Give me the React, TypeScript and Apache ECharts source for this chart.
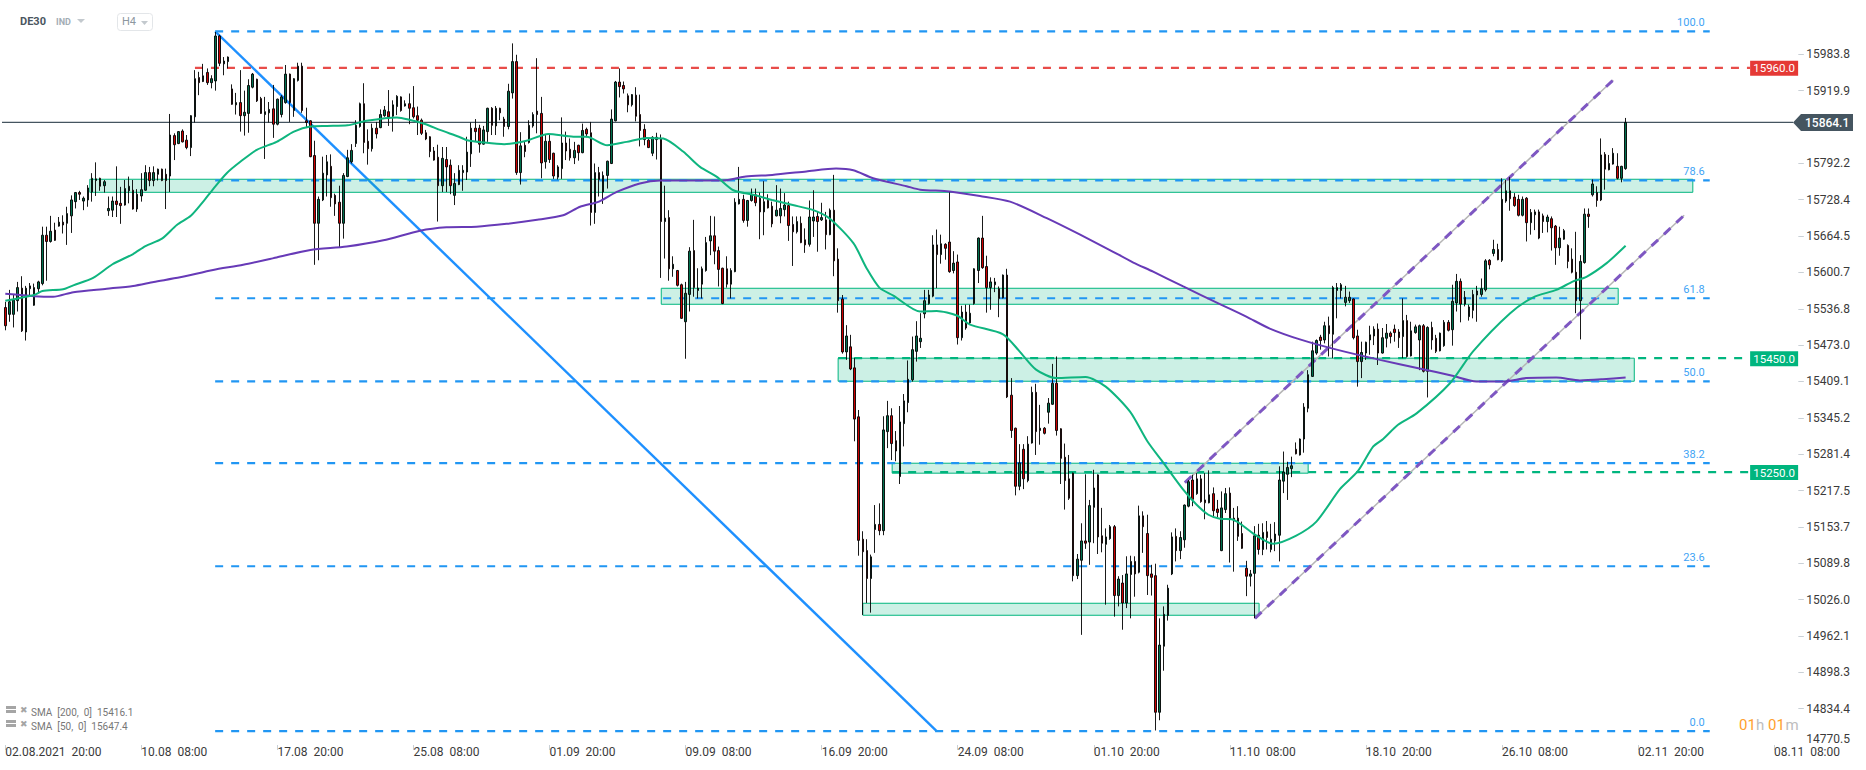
import React, { useEffect, useRef } from "react";
import * as echarts from "echarts";

// each row: [open, close, low, high]
const candlesAugA = [
[15539,15507,15499,15549],[15527,15549,15514,15570],[15527,15552,15504,15561],[15551,15574,15532,15584],[15573,15498,15496,15594],[15496,15573,15481,15577],[15572,15577,15559,15582],[15543,15574,15542,15581],[15572,15584,15566,15586],[15581,15666,15578,15681],
[15666,15655,15586,15681],[15655,15673,15653,15700],[15675,15657,15656,15688],[15682,15689,15681,15698],[15689,15684,15669,15701],[15687,15704,15649,15716],[15700,15728,15670,15736],[15725,15741,15713,15742],[15741,15738,15728,15744],[15726,15731,15710,15734],
[15728,15749,15716,15754],[15742,15766,15725,15775],[15762,15765,15735,15794],[15766,15752,15744,15767],[15753,15760,15741,15763],[15709,15713,15700,15734],[15710,15726,15698,15734],[15726,15720,15698,15787],[15722,15718,15686,15751],[15719,15748,15718,15763],
[15744,15752,15722,15769],[15745,15712,15711,15763],[15712,15738,15707,15747],[15735,15746,15725,15775],[15745,15776,15744,15789],[15776,15762,15752,15786],[15762,15776,15752,15787],[15773,15782,15762,15783],[15782,15762,15761,15783],[15773,15762,15712,15783],
[15770,15842,15742,15879],[15841,15825,15798,15845],[15827,15848,15826,15849],[15849,15830,15829,15852],[15833,15820,15817,15842],[15820,15876,15805,15877],[15874,15941,15864,15956],[15943,15934,15912,15953],[15936,15946,15935,15967],[15952,15934,15930,15959],
[15934,15941,15924,15947],[15937,16016,15920,16023],[16016,15968,15963,16018],[15967,15972,15947,15979],[15971,15979,15959,15980],[15923,15896,15895,15931],[15895,15899,15878,15916],[15899,15876,15848,15956],[15876,15882,15841,15920],[15880,15929,15846,15940],
];
const candlesAugB = [
[15926,15949,15924,15951],[15940,15902,15900,15941],[15906,15880,15879,15909],[15878,15883,15800,15909],[15881,15887,15864,15900],[15888,15861,15837,15930],[15861,15905,15859,15906],[15878,15909,15873,15912],[15899,15949,15897,15965],[15949,15899,15865,15950],
[15885,15941,15874,15942],[15938,15963,15936,15969],[15963,15885,15881,15969],[15867,15864,15855,15890],[15867,15804,15803,15868],[15806,15687,15614,15832],[15687,15729,15622,15734],[15728,15775,15726,15804],[15772,15795,15734,15807],[15787,15732,15716,15808],
[15736,15721,15700,15739],[15724,15687,15645,15753],[15687,15771,15660,15775],[15769,15802,15768,15816],[15795,15815,15792,15826],[15827,15859,15821,15868],[15857,15897,15855,15899],[15897,15829,15810,15933],[15831,15818,15790,15852],[15818,15854,15813,15862],
[15854,15844,15836,15865],[15855,15878,15854,15887],[15876,15886,15874,15893],[15883,15874,15858,15921],[15875,15895,15848,15903],[15892,15910,15877,15912],[15909,15885,15883,15910],[15893,15897,15892,15903],[15897,15889,15861,15915],[15890,15874,15871,15928],
[15876,15868,15842,15892],[15868,15845,15842,15871],[15846,15835,15833,15851],[15839,15813,15803,15840],[15814,15798,15797,15821],[15803,15753,15690,15825],[15753,15801,15742,15821],[15799,15786,15742,15821],[15789,15753,15738,15799],[15736,15757,15719,15775],
[15755,15780,15754,15789],[15776,15780,15744,15789],[15777,15812,15763,15839],
];
const candlesSepA = [
[15809,15854,15786,15864],[15854,15848,15830,15870],[15854,15826,15811,15860],[15826,15851,15825,15858],[15848,15889,15830,15890],[15889,15859,15842,15891],[15858,15889,15842,15893],[15889,15881,15868,15890],[15870,15857,15839,15874],[15857,15919,15852,15932],
[15916,15971,15906,16003],[15971,15776,15772,15983],[15776,15823,15755,15847],[15824,15813,15803,15831],[15829,15859,15827,15868],[15858,15878,15855,15882],[15884,15878,15845,15977],[15880,15793,15766,15909],[15795,15831,15783,15842],[15831,15799,15793,15842],
[15810,15770,15765,15811],[15768,15786,15764,15789],[15783,15828,15765,15873],[15828,15814,15798,15848],[15817,15802,15797,15836],[15802,15815,15791,15830],[15824,15811,15797,15825],[15811,15850,15810,15862],[15852,15844,15838,15855],[15846,15706,15683,15865],
[15706,15776,15686,15792],[15776,15764,15734,15786],[15742,15771,15721,15778],[15771,15796,15748,15797],[15792,15870,15791,15887],[15867,15935,15866,15937],[15935,15927,15908,15959],[15929,15923,15915,15936],[15911,15895,15882,15915],[15895,15913,15892,15914],
[15912,15875,15866,15926],[15878,15850,15822,15913],[15852,15834,15824,15861],[15833,15820,15819,15836],[15810,15838,15805,15840],[15834,15838,15799,15846],[15836,15690,15591,15843],[15690,15696,15625,15753],[15697,15607,15586,15710],[15607,15615,15593,15629],
[15604,15578,15576,15605],[15579,15520,15519,15581],[15514,15564,15449,15584],[15562,15638,15532,15645],[15639,15574,15558,15693],[15569,15573,15555,15608],[15580,15607,15555,15611],[15604,15653,15602,15663],[15656,15665,15631,15700],[15665,15638,15615,15699],
];
const candlesSepB = [
[15639,15606,15576,15646],[15608,15546,15545,15609],[15607,15580,15574,15629],[15580,15604,15555,15608],[15602,15724,15601,15731],[15721,15729,15720,15786],[15729,15692,15688,15737],[15692,15727,15681,15728],[15727,15737,15725,15748],[15737,15723,15717,15748],
[15731,15707,15659,15741],[15707,15725,15666,15761],[15727,15714,15713,15738],[15717,15686,15680,15725],[15700,15710,15699,15754],[15700,15713,15687,15748],[15711,15719,15699,15740],[15718,15683,15656,15725],[15685,15672,15612,15699],[15672,15690,15669,15699],
[15687,15653,15652,15699],[15658,15649,15635,15678],[15650,15698,15646,15727],[15691,15698,15663,15745],[15699,15690,15637,15707],[15693,15697,15691,15723],[15693,15667,15641,15707],[15667,15710,15666,15713],[15710,15621,15594,15772],[15624,15551,15530,15643],
[15554,15461,15458,15561],[15461,15489,15447,15508],[15470,15431,15429,15491],[15433,15343,15304,15450],[15347,15130,15103,15359],[15132,15110,14999,15146],[15112,15063,15020,15132],[15063,15101,15003,15105],[15149,15158,15108,15192],[15158,15147,15139,15195],
[15147,15324,15139,15348],[15321,15349,15292,15375],[15349,15300,15271,15362],[15305,15287,15269,15322],[15242,15338,15229,15366],[15335,15375,15295,15387],
];
const candlesOctA = [
[15372,15413,15355,15446],[15412,15465,15409,15488],[15462,15489,15444,15515],[15479,15485,15468,15529],[15528,15551,15520,15570],[15546,15561,15544,15570],[15559,15649,15557,15666],[15649,15632,15573,15676],[15632,15651,15616,15667],[15650,15643,15623,15652],
[15654,15602,15600,15743],[15604,15617,15599,15638],[15619,15486,15474,15632],[15486,15531,15481,15542],[15531,15503,15500,15544],[15512,15529,15510,15544],[15546,15607,15544,15608],[15604,15661,15582,15662],[15661,15609,15607,15700],[15611,15574,15530,15630],
[15574,15584,15535,15592],[15579,15584,15566,15591],[15572,15555,15522,15576],[15556,15596,15555,15597],[15596,15382,15380,15607],[15385,15323,15310,15415],[15327,15225,15209,15328],[15225,15266,15218,15299],[15290,15238,15220,15299],[15235,15299,15232,15313],
[15301,15390,15300,15400],[15390,15321,15280,15405],[15323,15327,15298,15368],[15327,15318,15316,15329],[15355,15371,15335,15380],[15369,15406,15368,15440],[15406,15323,15314,15453],[15326,15274,15229,15327],[15276,15235,15184,15300],[15238,15204,15201,15280],
[15248,15068,15058,15249],[15068,15097,15062,15106],[15095,15129,14964,15160],[15129,15125,15115,15246],[15127,15191,15087,15201],[15188,15222,15125,15254],[15245,15136,15106,15246],[15138,15125,15109,15187],[15123,15136,15017,15151],[15133,15154,15131,15157],
[15154,15033,14996,15157],[15033,15062,15014,15067],[15055,15020,14973,15069],[15020,15071,15011,15102],[15070,15093,14993,15103],[15093,15071,15031,15102],[15074,15173,15072,15191],[15173,15154,15108,15181],[15142,15068,15034,15175],[15071,15065,15033,15087],
];
const candlesOctB = [
[15068,14828,14796,15089],[14828,14946,14814,14993],[14944,15000,14901,15014],[14998,15046,14989,15052],[15071,15136,15069,15144],[15137,15112,15093,15151],[15112,15135,15097,15146],[15131,15192,15117,15193],[15190,15233,15188,15236],[15236,15202,15190,15245],
[15212,15238,15210,15248],[15238,15198,15196,15245],[15201,15196,15167,15248],[15196,15210,15195,15253],[15212,15182,15172,15223],[15185,15179,15171,15201],[15112,15187,15111,15216],[15184,15212,15178,15222],[15213,15167,15091,15223],[15169,15164,15075,15187],
[15169,15137,15129,15190],[15142,15116,15115,15163],[15081,15067,15032,15094],[15067,15071,15049,15078],[15072,15138,14993,15155],[15139,15114,15105,15159],[15114,15144,15104,15160],[15145,15135,15114,15164],[15114,15132,15109,15159],[15129,15141,15111,15162],
[15139,15236,15093,15260],[15234,15250,15213,15286],[15246,15258,15201,15268],[15256,15261,15241,15277],[15290,15282,15281,15302],[15280,15308,15279,15309],[15308,15364,15284,15371],[15362,15421,15355,15429],[15418,15463,15417,15479],[15459,15481,15456,15483],
];
const candlesOctC = [
[15487,15481,15465,15491],[15482,15507,15476,15514],[15507,15493,15453,15523],[15492,15574,15450,15577],[15569,15574,15520,15582],[15569,15579,15555,15582],[15548,15557,15541,15577],[15551,15557,15547,15567],[15554,15486,15483,15555],[15489,15444,15400,15500],
[15444,15460,15415,15479],[15459,15478,15447,15479],[15482,15491,15456,15507],[15489,15501,15473,15506],[15501,15459,15438,15511],[15459,15486,15458,15503],[15485,15494,15469,15510],[15494,15488,15476,15497],[15501,15495,15479,15509],[15496,15486,15468,15501],
[15488,15516,15450,15555],[15516,15453,15451,15526],[15454,15498,15453,15514],[15495,15505,15493,15509],[15482,15507,15429,15509],[15507,15427,15425,15510],[15427,15504,15381,15506],[15504,15482,15465,15514],[15485,15462,15459,15491],[15463,15494,15462,15495],
[15472,15513,15470,15517],[15513,15499,15497,15517],[15500,15550,15472,15579],[15547,15585,15532,15598],[15585,15545,15513,15590],[15545,15557,15541,15568],[15523,15540,15516,15544],[15534,15562,15520,15570],[15561,15568,15514,15577],[15562,15572,15558,15590],
[15570,15621,15567,15624],[15622,15614,15606,15624],[15634,15641,15629,15658],[15641,15623,15622,15651],[15622,15729,15619,15766],[15726,15744,15723,15763],[15744,15730,15709,15768],[15733,15718,15716,15740],[15729,15701,15699,15737],[15701,15729,15699,15734],
[15731,15688,15655,15733],[15688,15706,15667,15712],[15702,15707,15675,15711],[15707,15661,15659,15711],[15700,15690,15670,15704],[15690,15698,15671,15702],[15695,15679,15639,15699],[15682,15644,15614,15684],[15644,15661,15630,15681],[15659,15674,15658,15677],
[15648,15620,15608,15650],[15624,15601,15599,15643],[15601,15551,15529,15672],[15551,15620,15483,15631],[15618,15703,15616,15713],[15703,15699,15679,15713],[15737,15756,15734,15764],[15741,15727,15716,15752],[15728,15807,15726,15836],[15808,15782,15746,15812],
[15781,15792,15780,15807],[15791,15810,15790,15819],[15787,15766,15764,15810],[15766,15787,15759,15788],[15783,15864.1,15781,15872],
];

// moving averages: [bar position, price]
const sma50 = [
[0,15551],[7,15561],[9,15568],[14,15571],[16.5,15578],[21.3,15591],[26,15615],[31,15633],[34,15647],[38,15660],[41.6,15684],[45,15700],[48,15725],[50.5,15748],[53.7,15775],[57,15795],[61,15816],[65.8,15830],[70,15848],[74,15857],[78,15858],[83,15859],[87.6,15867],[95,15873],[98,15869],[102,15861],[105.4,15851],[110,15839],[112,15833],
[116,15829],[121,15826],[126.4,15832],[131.7,15844],[137.8,15839],[141,15839],[146,15824],[150.7,15830],[155.5,15837],[159.6,15836],[164.4,15813],[168.5,15786],[172.5,15769],[176.6,15745],[181.4,15737],[186,15728],[191,15719],[196,15710],[200,15695],[205.7,15652],[208.9,15608],[212,15574],[215.4,15560],[221.9,15532],[225.9,15533],[230.8,15525],[234,15509],[242,15492],[246,15462],[250,15430],[254.9,15415],[262,15417],[266.9,15400],[272.8,15356],[277,15304],[280.9,15266],[285.7,15219],[288.9,15193],[291.8,15175],[294.6,15168],[297.5,15167],[303.3,15139],[307.5,15124],[313,15138],[318,15163],[323.7,15220],[328,15251],[331.8,15295],[334.2,15308],[337.8,15333],[342.3,15353],[350.4,15406],[356,15462],[365,15529],[370.6,15557],[376.2,15570],[380.3,15585],[383.5,15593],[388.4,15617],[393,15647.4],
];
const sma200 = [
[0,15563],[7,15559],[11.6,15558],[16.5,15566],[24.6,15572],[31,15577],[36,15584],[42.4,15592],[50.4,15605],[57.7,15614],[65.8,15627],[74,15640],[82.8,15646],[91.7,15657],[100.6,15674],[107,15680],[114.3,15681],[121.6,15686],[129,15693],[135.3,15701],[139.4,15716],[144,15725],[148.3,15742],[153.9,15757],[158.8,15762],[166.8,15762],[174,15762],[179.6,15769],[186,15772],[194.3,15778],[201.5,15783],[205.7,15780],[210.5,15766],[218.6,15752],[221.9,15746],[229,15743],[236.4,15735],[243.7,15725],[252.6,15696],[260.7,15667],[267.9,15640],[273.6,15618],[278.4,15602],[285.7,15576],[294.6,15545],[301,15523],[306.7,15502],[314,15483],[322.9,15465],[333.4,15447],[343,15432],[351,15419],[356.8,15409],[363.3,15409],[368.9,15415],[376.2,15416],[381.9,15411],[387.5,15413],[393,15416.1],
];

const priceTicks = [15983.8,15919.9,15792.2,15728.4,15664.5,15600.7,15536.8,15473.0,15409.1,15345.2,15281.4,15217.5,15153.7,15089.8,15026.0,14962.1,14898.3,14834.4,14770.5];
const timeLabels = ["02.08.2021  20:00","10.08  08:00","17.08  20:00","25.08  08:00","01.09  20:00","09.09  08:00","16.09  20:00","24.09  08:00","01.10  20:00","11.10  08:00","18.10  20:00","26.10  08:00","02.11  20:00","08.11  08:00"];

// [start bar, end bar, level, caption]
const fibLevels = [
  [50.9,413.4,16024.2,"100.0"],[50.9,413.4,15762.5,"78.6"],[50.9,413.4,15555.3,"61.8"],[50.9,413.4,15409.4,"50.0"],[50.9,413.4,15265.5,"38.2"],[50.9,413.4,15084.5,"23.6"],[50.9,413.4,14794.7,"0.0"],
];
// [start bar, end bar, upper price, lower price]
const zones = [
  [20.5,409.3,15764.3,15741.4],[159.1,391.2,15572.8,15544.7],[202,395.1,15450,15409.5],[215.1,316,15265.5,15248],[208,304.1,15019.5,14998.4],
];
// [start bar, start price, end bar, end price]
const trendLine = [[50.9,16024.2,225.9,14794.7]];
const channelLines = [[286.1,15231.4,390,15938.7],[303.1,14993,407.2,15701]];
const resistanceLevel = [[46,15960,423.2,15960]];
const supportLevels = [[202,15450,423.2,15450],[215.1,15250,423.2,15250]];
const currentLevel = [[-0.8,15864.1,433.6,15864.1]];
const priceFlags = [[15960,"#e53935"],[15450,"#00b57e"],[15250,"#00b57e"]];
const currentPrice = [[15864.1]];

const FONT = "Roboto, sans-serif";
const BAR_COUNT = 436;
const LABEL_STEP = 33;
const BLUE = "#2196f3";

const segmentSeries = (rows: any[], style: any) => ({
  type: "custom",
  xAxisIndex: 1,
  yAxisIndex: 0,
  silent: true,
  data: rows,
  encode: { x: [0, 2], y: [1, 3] },
  renderItem: (_p: any, api: any) => {
    const a = api.coord([api.value(0), api.value(1)]);
    const b = api.coord([api.value(2), api.value(3)]);
    return { type: "line", shape: { x1: a[0], y1: a[1], x2: b[0], y2: b[1] }, style: { fill: null, ...style } };
  },
});

function buildOption() {
  const candles = [...candlesAugA, ...candlesAugB, ...candlesSepA, ...candlesSepB, ...candlesOctA, ...candlesOctB, ...candlesOctC];
  const categories = Array.from({ length: BAR_COUNT }, (_, i) => (i % LABEL_STEP === 0 ? timeLabels[i / LABEL_STEP] ?? "" : ""));
  const everyLabel = (i: number) => i % LABEL_STEP === 0;
  const lowest = priceTicks[priceTicks.length - 1];
  return {
    animation: false,
    backgroundColor: "#ffffff",
    grid: { left: 3.24, top: 0, width: 1797.6, height: 745, containLabel: false },
    xAxis: [
      {
        type: "category",
        data: categories,
        boundaryGap: true,
        axisLine: { show: false, onZero: false },
        axisTick: { show: true, interval: everyLabel, alignWithLabel: true, length: 5, lineStyle: { color: "#c9d0d6", width: 1 } },
        axisLabel: { show: true, interval: everyLabel, align: "left", margin: 0, color: "#3a3a3a", fontSize: 12, fontFamily: FONT, lineHeight: 14 },
        splitLine: { show: false },
      },
      { type: "value", min: -0.5, max: BAR_COUNT - 0.5, show: false, splitLine: { show: false } },
    ],
    yAxis: [
      {
        type: "value",
        position: "right",
        min: 14770.5,
        max: 16079.2,
        offset: -2.5,
        axisLine: { show: false, onZero: false },
        axisTick: { show: true, length: 5.5, customValues: priceTicks.slice(0, -1), lineStyle: { color: "#c9d0d6", width: 1 } },
        axisLabel: {
          show: true,
          customValues: priceTicks,
          margin: 8,
          color: "#3a3a3a",
          fontSize: 12,
          fontFamily: FONT,
          formatter: (v: number) => (v === lowest ? `{low|${v.toFixed(1)}}` : v.toFixed(1)),
          rich: { low: { color: "#3a3a3a", fontSize: 12, fontFamily: FONT, padding: [0, 0, 12, 0] } },
        },
        splitLine: { show: false },
      },
    ],
    series: [
      {
        type: "candlestick",
        xAxisIndex: 0,
        yAxisIndex: 0,
        barWidth: 2,
        data: candles,
        itemStyle: { color: "#00704e", color0: "#cc0000", borderColor: "#000000", borderColor0: "#000000", borderWidth: 0.9 },
      },
      {
        type: "line", xAxisIndex: 1, yAxisIndex: 0, data: sma200, showSymbol: false, symbol: "none", smooth: 0.25, silent: true,
        lineStyle: { color: "#673ab7", width: 2 },
      },
      {
        type: "line", xAxisIndex: 1, yAxisIndex: 0, data: sma50, showSymbol: false, symbol: "none", smooth: 0.25, silent: true,
        lineStyle: { color: "#0fb57f", width: 2 },
      },
      segmentSeries(currentLevel, { stroke: "#455560", lineWidth: 1.2 }),
      segmentSeries(trendLine, { stroke: "#1e90ff", lineWidth: 2.4 }),
      segmentSeries(resistanceLevel, { stroke: "#e53935", lineWidth: 2.2, lineDash: [8, 8], opacity: 0.9 }),
      segmentSeries(supportLevels, { stroke: "#00b57e", lineWidth: 2.2, lineDash: [8, 8] }),
      {
        type: "custom", xAxisIndex: 1, yAxisIndex: 0, silent: true, data: zones,
        encode: { x: [0, 1], y: [2, 3] },
        renderItem: (_p: any, api: any) => {
          const a = api.coord([api.value(0), api.value(2)]);
          const b = api.coord([api.value(1), api.value(3)]);
          return {
            type: "rect",
            shape: { x: a[0], y: a[1], width: b[0] - a[0], height: b[1] - a[1] },
            style: { fill: "rgba(0,181,126,0.2)", stroke: "#00b57e", lineWidth: 1 },
          };
        },
      },
      {
        type: "custom", xAxisIndex: 1, yAxisIndex: 0, silent: true, data: fibLevels,
        encode: { x: [0, 1], y: 2 },
        renderItem: (_p: any, api: any) => {
          const a = api.coord([api.value(0), api.value(2)]);
          const b = api.coord([api.value(1), api.value(2)]);
          return {
            type: "group",
            children: [
              { type: "line", shape: { x1: a[0], y1: a[1], x2: b[0], y2: b[1] }, style: { stroke: BLUE, lineWidth: 2.2, lineDash: [8, 8], fill: null } },
              { type: "text", style: { text: String(fibLevels[_p.dataIndex][3]), x: b[0] - 5, y: a[1] - 9, align: "right", verticalAlign: "middle", fill: "#3fa4f5", fontSize: 11, fontFamily: FONT } },
            ],
          };
        },
      },
      segmentSeries(channelLines, { stroke: "#b5b5b5", lineWidth: 1.5 }),
      segmentSeries(channelLines, { stroke: "#7e57c2", lineWidth: 3, lineDash: [9, 8] }),
      {
        type: "custom", xAxisIndex: 1, yAxisIndex: 0, silent: true, data: priceFlags,
        encode: { y: 0 },
        renderItem: (_p: any, api: any) => {
          const c = api.coord([423.2, api.value(0)]);
          const row = priceFlags[_p.dataIndex];
          return {
            type: "group",
            children: [
              { type: "rect", shape: { x: c[0], y: c[1] - 7, width: 48, height: 15 }, style: { fill: row[1] } },
              { type: "text", style: { text: Number(row[0]).toFixed(1), x: c[0] + 24, y: c[1] + 0.5, align: "center", verticalAlign: "middle", fill: "#ffffff", fontSize: 11.5, fontFamily: FONT } },
            ],
          };
        },
      },
      {
        type: "custom", xAxisIndex: 1, yAxisIndex: 0, silent: true, data: currentPrice,
        encode: { y: 0 },
        renderItem: (_p: any, api: any) => {
          const c = api.coord([433.6, api.value(0)]);
          const x = c[0], y = c[1];
          return {
            type: "group",
            children: [
              { type: "polygon", shape: { points: [[x, y], [x + 8, y - 8.5], [x + 60, y - 8.5], [x + 60, y + 8.5], [x + 8, y + 8.5]] }, style: { fill: "#455560" } },
              { type: "text", style: { text: Number(api.value(0)).toFixed(1), x: x + 12, y: y + 0.5, align: "left", verticalAlign: "middle", fill: "#ffffff", fontSize: 12, fontWeight: 500, fontFamily: FONT } },
            ],
          };
        },
      },
    ],
    graphic: [
      { type: "text", x: 20, y: 16, style: { text: "DE30", fill: "#4a5660", fontSize: 11, fontWeight: "bold", fontFamily: FONT } },
      { type: "text", x: 56, y: 17.5, style: { text: "IND", fill: "#a3adb5", fontSize: 9, fontWeight: "bold", fontFamily: FONT } },
      { type: "polygon", shape: { points: [[77, 19], [85, 19], [81, 23]] }, style: { fill: "#c3c9ce" } },
      { type: "rect", shape: { x: 117.5, y: 13.5, width: 35, height: 17, r: 3 }, style: { fill: "#ffffff", stroke: "#e3e6e9", lineWidth: 1 } },
      { type: "text", x: 122, y: 16, style: { text: "H4", fill: "#8d979f", fontSize: 11, fontFamily: FONT } },
      { type: "polygon", shape: { points: [[141, 21], [148, 21], [144.5, 25]] }, style: { fill: "#c3c9ce" } },

      { type: "rect", shape: { x: 6, y: 706, width: 10, height: 3 }, style: { fill: "#a5a5a5" } },
      { type: "rect", shape: { x: 6, y: 710, width: 10, height: 3 }, style: { fill: "#a5a5a5" } },
      { type: "text", x: 20, y: 705, style: { text: "✖", fill: "#a5a5a5", fontSize: 9, fontFamily: "DejaVu Sans" } },
      { type: "text", x: 31, y: 707, style: { text: "SMA  [200,  0]  15416.1", fill: "#777777", fontSize: 10, fontFamily: FONT } },
      { type: "rect", shape: { x: 6, y: 720, width: 10, height: 3 }, style: { fill: "#a5a5a5" } },
      { type: "rect", shape: { x: 6, y: 724, width: 10, height: 3 }, style: { fill: "#a5a5a5" } },
      { type: "text", x: 20, y: 719, style: { text: "✖", fill: "#a5a5a5", fontSize: 9, fontFamily: "DejaVu Sans" } },
      { type: "text", x: 31, y: 721, style: { text: "SMA  [50,  0]  15647.4", fill: "#777777", fontSize: 10, fontFamily: FONT } },

      { type: "text", x: 1739, y: 717, style: { text: "01", fill: "#ff9f2e", fontSize: 15, fontFamily: FONT } },
      { type: "text", x: 1756, y: 717, style: { text: "h", fill: "#bdbdbd", fontSize: 15, fontFamily: FONT } },
      { type: "text", x: 1768, y: 717, style: { text: "01", fill: "#ff9f2e", fontSize: 15, fontFamily: FONT } },
      { type: "text", x: 1785.5, y: 717, style: { text: "m", fill: "#bdbdbd", fontSize: 15, fontFamily: FONT } },
    ],
  };
}

export default function App() {
  const ref = useRef<HTMLDivElement>(null);
  useEffect(() => {
    document.body.style.margin = "0";
    const chart = echarts.init(ref.current!, null, { renderer: "svg", width: 1866, height: 770 });
    chart.setOption(buildOption() as any);
    return () => chart.dispose();
  }, []);
  return <div ref={ref} style={{ width: 1866, height: 770 }} />;
}
